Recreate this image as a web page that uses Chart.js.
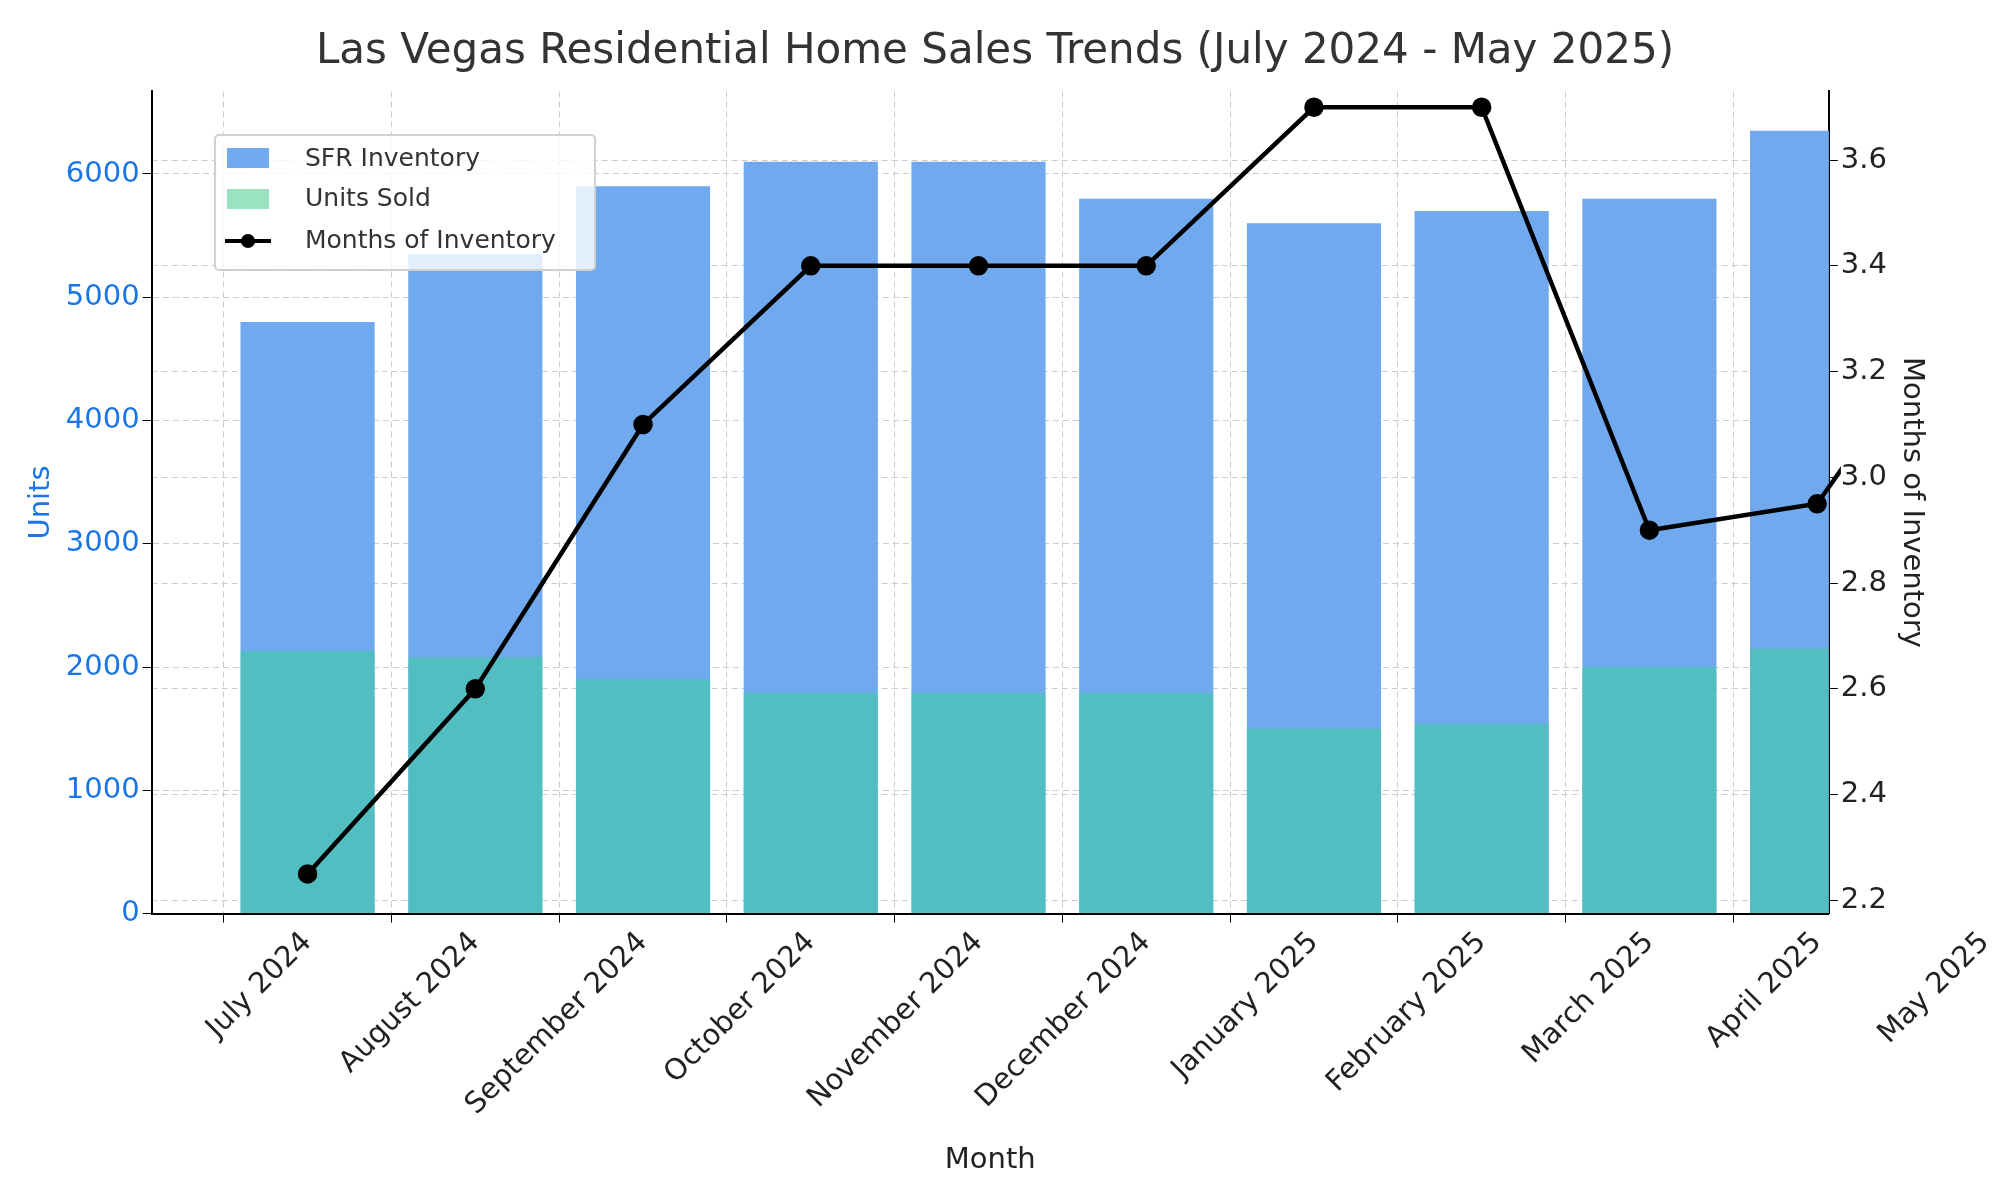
<!DOCTYPE html>
<html><head><meta charset="utf-8">
<script src="https://cdn.jsdelivr.net/npm/chart.js@4"></script>
<style>body{margin:0;background:#fff}</style></head>
<body><canvas id="c" width="2000" height="1200"></canvas>
<script>
const months = ["July 2024","August 2024","September 2024","October 2024","November 2024","December 2024","January 2025","February 2025","March 2025","April 2025","May 2025"];
const sfrInventory = [4800,5350,5900,6100,6100,5800,5600,5700,5800,6350,6350];
const unitsSold = [2130,2080,1900,1790,1790,1790,1500,1540,2000,2150,2150];
const monthsOfInventory = [2.25,2.6,3.1,3.4,3.4,3.4,3.7,3.7,2.9,2.95,3.4];
const leftTicks = [0,1000,2000,3000,4000,5000,6000];
const rightTicks = [2.2,2.4,2.6,2.8,3.0,3.2,3.4,3.6];
const F = "DejaVu Sans";

const legendPlugin = {
  id:'lg',
  afterDraw(ch){
    const c=ch.ctx; c.save();
    const x=215,y=135,w=380,h=135;
    c.fillStyle='rgba(255,255,255,0.8)'; c.strokeStyle='#d0d0d0'; c.lineWidth=2;
    c.beginPath(); c.roundRect(x,y,w,h,4); c.fill(); c.stroke();
    c.fillStyle='#70a9ee'; c.fillRect(x+12,y+13,42,20);
    c.fillStyle='#97e3c2'; c.fillRect(x+12,y+54,42,20);
    c.strokeStyle='#000'; c.lineWidth=4; c.beginPath(); c.moveTo(x+10,y+106); c.lineTo(x+56,y+106); c.stroke();
    c.fillStyle='#000'; c.beginPath(); c.arc(x+33,y+106,7,0,Math.PI*2); c.fill();
    c.fillStyle='#333'; c.font='25px '+F; c.textBaseline='middle';
    c.fillText('SFR Inventory',x+90,y+24); c.fillText('Units Sold',x+90,y+64); c.fillText('Months of Inventory',x+90,y+106);
    c.restore();
  }
};

new Chart(document.getElementById('c'),{
  data:{labels:months,datasets:[
    {type:'line',label:'Months of Inventory',data:monthsOfInventory,yAxisID:'y1',borderColor:'#000',backgroundColor:'#000',borderWidth:4.5,pointRadius:7.5,pointHoverRadius:7.5,order:0},
    {type:'bar',label:'Units Sold',data:unitsSold,yAxisID:'y',backgroundColor:'rgba(46,214,140,0.45)',grouped:false,barPercentage:0.8,categoryPercentage:1,order:1},
    {type:'bar',label:'SFR Inventory',data:sfrInventory,yAxisID:'y',backgroundColor:'#70a9ee',grouped:false,barPercentage:0.8,categoryPercentage:1,order:2}
  ]},
  options:{responsive:false,devicePixelRatio:1,animation:false,
    layout:{padding:{left:20,right:30,top:5,bottom:18}},
    plugins:{legend:{display:false},tooltip:{enabled:false},
      title:{display:true,text:'Las Vegas Residential Home Sales Trends (July 2024 - May 2025)',font:{family:F,size:42,weight:'normal'},color:'#333',padding:{top:22,bottom:14}}},
    scales:{
      x:{offset:false,
        afterDataLimits(s){s.min=-0.93;s.max=10.93;},
        afterBuildTicks(s){s.ticks=months.map((m,i)=>({value:i}));},
        ticks:{font:{family:F,size:29},color:'#222',maxRotation:45,minRotation:45,autoSkip:false},
        grid:{color:'#ccc',drawTicks:true,tickColor:'#000',tickLength:9},border:{color:'#000',width:2,dash:[6,4]},
        title:{display:true,text:'Month',font:{family:F,size:29},color:'#222',padding:{top:18}}},
      y:{position:'left',min:0,max:6670,afterBuildTicks(a){a.ticks=leftTicks.map(v=>({value:v}));},
        ticks:{font:{family:F,size:29},color:'#1a75e6',callback:v=>String(v)},
        grid:{color:'#ccc',tickColor:'#000',tickLength:9},border:{color:'#000',width:2,dash:[6,4]},
        title:{display:true,text:'Units',font:{family:F,size:29},color:'#1a75e6'}},
      y1:{position:'right',min:2.175,max:3.73,afterBuildTicks(a){a.ticks=rightTicks.map(v=>({value:v}));},
        ticks:{font:{family:F,size:29},color:'#222',callback:v=>v.toFixed(1)},
        grid:{color:'#ccc',tickColor:'#000',tickLength:9},border:{color:'#000',width:2,dash:[6,4]},
        title:{display:true,text:'Months of Inventory',font:{family:F,size:29},color:'#222'}}
    }
  },
  plugins:[legendPlugin]
});
</script></body></html>
